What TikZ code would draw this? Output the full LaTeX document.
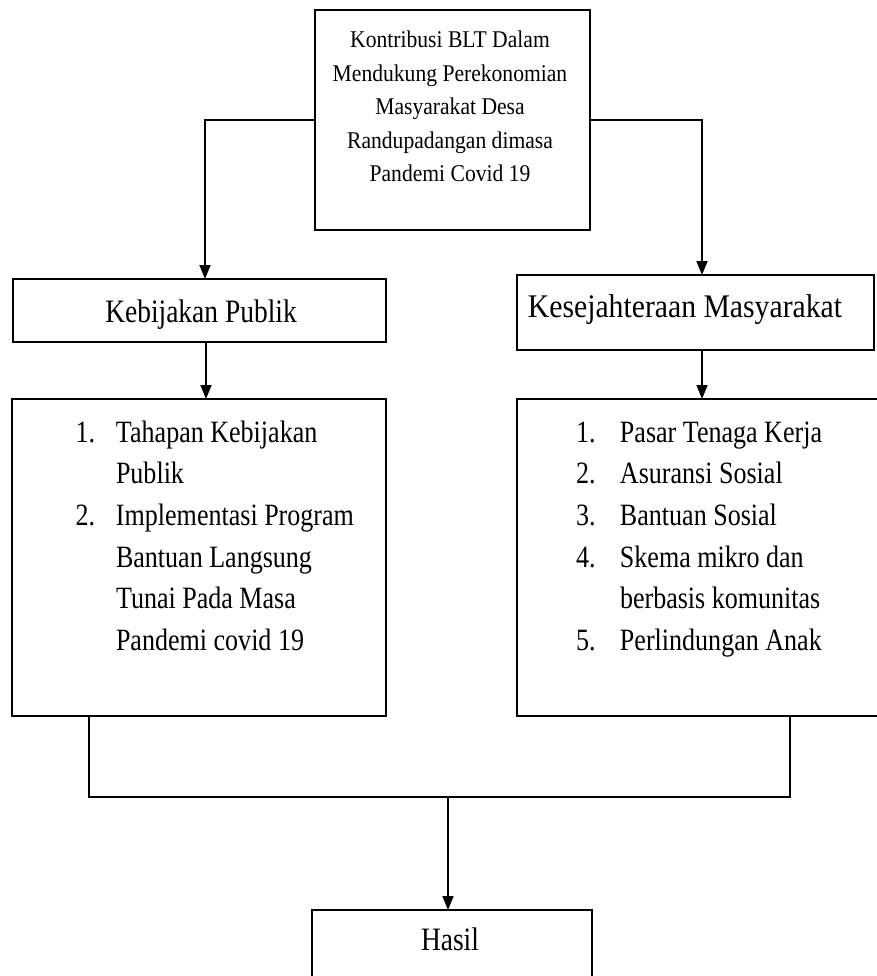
\documentclass[tikz,border=0pt]{standalone}
\usepackage{fontspec}
\setmainfont{Liberation Serif}
\newfontfamily\bigfont[FakeStretch=0.84]{Liberation Serif}
\newfontfamily\topfont[FakeStretch=0.9]{Liberation Serif}
\usetikzlibrary{arrows.meta}
\begin{document}
\begin{tikzpicture}[x=1pt,y=-1pt,
  box/.style={draw=black, line width=1.6pt, inner sep=0pt, outer sep=0pt},
  conn/.style={line width=1.6pt, draw=black},
  arr/.style={conn, -{Triangle[width=11pt,length=14pt]}},
  txt/.style={inner sep=0pt, outer sep=0pt, anchor=base}]
\useasboundingbox (0,0) rectangle (877,976);
\clip (0,0) rectangle (877,976);
\fill[white] (0,0) rectangle (877,976);

% boxes
\node[box, minimum width=275pt, minimum height=220pt] (top) at (452.5,120) {};
\node[box, minimum width=373pt, minimum height=63pt] (kp) at (199.5,310.5) {};
\node[box, minimum width=357pt, minimum height=75pt] (ks) at (695.5,312.5) {};
\node[box, minimum width=374pt, minimum height=317pt] (lb) at (199,557.5) {};
\node[box, minimum width=373pt, minimum height=317pt] (rb) at (703.5,557.5) {};
\node[box, minimum width=280pt, minimum height=80pt] (hasil) at (452,950) {};

% texts
\node[txt] (toptext) at (450,48) {\topfont\fontsize{24}{33.5}\selectfont
  \begin{tabular}[t]{@{}c@{}}Kontribusi BLT Dalam\\Mendukung Perekonomian\\Masyarakat Desa\\Randupadangan dimasa\\Pandemi Covid 19\end{tabular}};
\node[txt] (kptext) at (201,322) {\bigfont\fontsize{32.7}{40}\selectfont Kebijakan Publik};
\node[txt] (kstext) at (685,317) {\topfont\fontsize{33}{40}\selectfont Kesejahteraan Masyarakat};
\node[txt, anchor=base west] (lbtext) at (75.5,442) {\bigfont\fontsize{31}{41.7}\selectfont
  \begin{tabular}[t]{@{}l@{}}\makebox[40.5pt][l]{1.}Tahapan Kebijakan\\
  \hspace*{40.5pt}Publik\\
  \makebox[40.5pt][l]{2.}Implementasi Program\\
  \hspace*{40.5pt}Bantuan Langsung\\
  \hspace*{40.5pt}Tunai Pada Masa\\
  \hspace*{40.5pt}Pandemi covid 19\end{tabular}};
\node[txt, anchor=base west] (rbtext) at (576,442) {\bigfont\fontsize{31}{41.7}\selectfont
  \begin{tabular}[t]{@{}l@{}}\makebox[44pt][l]{1.}Pasar Tenaga Kerja\\
  \makebox[44pt][l]{2.}Asuransi Sosial\\
  \makebox[44pt][l]{3.}Bantuan Sosial\\
  \makebox[44pt][l]{4.}Skema mikro dan\\
  \hspace*{44pt}berbasis komunitas\\
  \makebox[44pt][l]{5.}Perlindungan Anak\end{tabular}};
\node[txt] (hasiltext) at (450,950) {\bigfont\fontsize{32.7}{40}\selectfont Hasil};

% connectors
\coordinate (lk) at (205,120);
\coordinate (rk) at (702,120);
\draw[arr] (top.west) -- (lk) -- (lk |- kp.north);
\draw[arr] (top.east) -- (rk) -- (rk |- ks.north);
\draw[arr] ([xshift=6.5pt]kp.south) -- ([xshift=7pt]lb.north);
\draw[arr] ([xshift=6.5pt]ks.south) -- ([xshift=-1.5pt]rb.north);
\coordinate (jL) at (89,797);
\coordinate (jR) at (790,797);
\coordinate (jM) at (448,797);
\draw[conn] (lb.south -| jL) -- (jL) -- (jR) -- (rb.south -| jR);
\draw[arr] (jM) -- (jM |- hasil.north);
\end{tikzpicture}
\end{document}
